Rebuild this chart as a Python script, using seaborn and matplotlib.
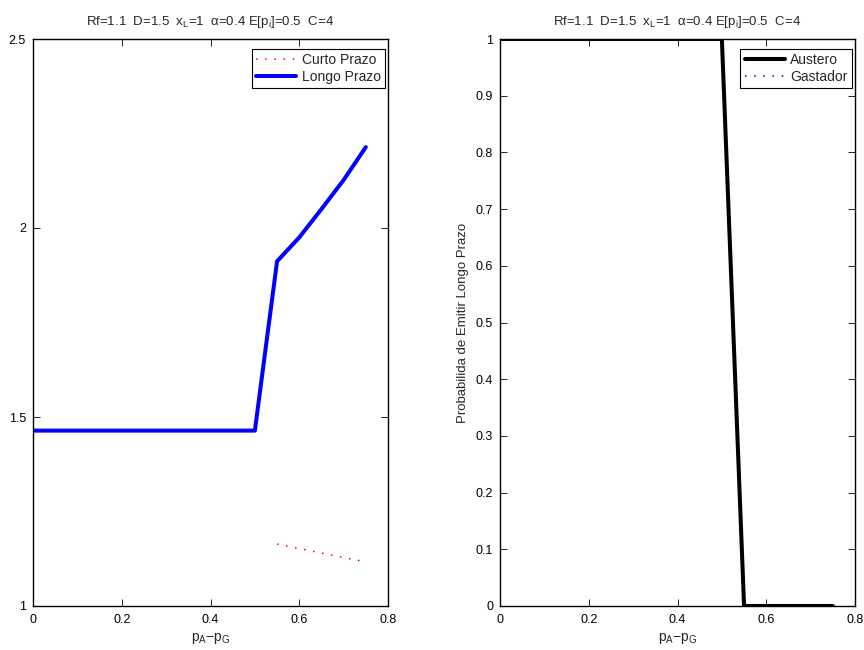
import matplotlib
matplotlib.use("Agg")
import matplotlib.pyplot as plt
import seaborn as sns
import pandas as pd
import numpy as np

# Data
x_all = [0.0, 0.05, 0.1, 0.15, 0.2, 0.25, 0.3, 0.35, 0.4, 0.45, 0.5, 0.55, 0.6, 0.65, 0.7, 0.75]
longo = [1.464, 1.464, 1.464, 1.464, 1.464, 1.464, 1.464, 1.464, 1.464, 1.464, 1.464,
         1.912, 1.975, 2.05, 2.127, 2.214]
x_curto = [0.55, 0.6, 0.65, 0.7, 0.75]
curto = [1.164, 1.152, 1.140, 1.128, 1.117]
austero = [1, 1, 1, 1, 1, 1, 1, 1, 1, 1, 1, 0, 0, 0, 0, 0]
gastador = [1, 1, 1, 1, 1, 1, 1, 1, 1, 1, 1, 1, 1, 1, 1, 1]

title = r"Rf=1.1  D=1.5  x$_\mathregular{L}$=1  $\mathregular{\alpha}$=0.4 E[p$_\mathregular{i}$]=0.5  C=4"
xlabel = r"p$_\mathregular{A}$$-$p$_\mathregular{G}$"
ylabel_right = "Probabilida de Emitir Longo Prazo"

sns.set_theme(style="white")
plt.rcParams['font.family'] = ['Liberation Sans', 'DejaVu Sans']
plt.rcParams['mathtext.fontset'] = 'custom'
plt.rcParams['mathtext.rm'] = 'Liberation Sans'
plt.rcParams['mathtext.it'] = 'Liberation Sans'
plt.rcParams['font.size'] = 10

fig = plt.figure(figsize=(8.64, 6.5), dpi=100)
W, H = 864, 650
top, bot = 39, 606
ax1 = fig.add_axes([33 / W, 1 - bot / H, 355 / W, (bot - top) / H])
ax2 = fig.add_axes([500 / W, 1 - bot / H, 355 / W, (bot - top) / H])

dot = (0, (1.0, 5.0))

df_l = pd.DataFrame({"x": x_all, "y": longo})
df_c = pd.DataFrame({"x": x_curto, "y": curto})
sns.lineplot(data=df_c, x="x", y="y", ax=ax1, color="#ff0000", lw=1.1,
             linestyle=dot, label="Curto Prazo")
sns.lineplot(data=df_l, x="x", y="y", ax=ax1, color="#0000ff", lw=2.9,
             label="Longo Prazo")
ax1.set_xlim(0, 0.8)
ax1.set_ylim(1, 2.5)
ax1.set_xticks([0, 0.2, 0.4, 0.6, 0.8])
ax1.set_xticklabels(["0", "0.2", "0.4", "0.6", "0.8"])
ax1.set_yticks([1, 1.5, 2, 2.5])
ax1.set_yticklabels(["1", "1.5", "2", "2.5"])
ax1.set_xlabel(xlabel, fontsize=10, labelpad=3)
ax1.set_ylabel("")
ax1.set_title(title, fontsize=9.5, pad=10)

df_a = pd.DataFrame({"x": x_all, "y": austero})
df_g = pd.DataFrame({"x": x_all, "y": gastador})
sns.lineplot(data=df_a, x="x", y="y", ax=ax2, color="black", lw=2.9, label="Austero")
sns.lineplot(data=df_g, x="x", y="y", ax=ax2, color="#0000ff", lw=1.1,
             linestyle=dot, label="Gastador")
ax2.set_xlim(0, 0.8)
ax2.set_ylim(0, 1)
ax2.set_xticks([0, 0.2, 0.4, 0.6, 0.8])
ax2.set_xticklabels(["0", "0.2", "0.4", "0.6", "0.8"])
yt = [0, 0.1, 0.2, 0.3, 0.4, 0.5, 0.6, 0.7, 0.8, 0.9, 1]
ax2.set_yticks(yt)
ax2.set_yticklabels(["0", "0.1", "0.2", "0.3", "0.4", "0.5", "0.6", "0.7", "0.8", "0.9", "1"])
ax2.set_xlabel(xlabel, fontsize=10, labelpad=3)
ax2.set_ylabel(ylabel_right, fontsize=9.5, labelpad=5)
ax2.set_title(title, fontsize=9.5, pad=10)

for ax in (ax1, ax2):
    for s in ax.spines.values():
        s.set_color("black")
        s.set_linewidth(1.0)
        s.set_visible(True)
    ax.tick_params(direction="in", length=5, width=0.6, colors="black",
                   labelsize=9, top=True, right=True, bottom=True, left=True,
                   pad=5)
    ax.tick_params(axis="x", pad=6)
    ax.set_facecolor("white")
    leg = ax.legend(loc="upper right", bbox_to_anchor=(1 - 3 / 355, 1 - 10 / 567),
                    fontsize=10, frameon=True, fancybox=False,
                    edgecolor="black", framealpha=1, handlelength=2.9,
                    borderpad=0.3, labelspacing=0.2, handletextpad=0.4,
                    borderaxespad=0.0)
    leg.get_frame().set_linewidth(0.8)

fig.savefig("out.png", dpi=100, facecolor="white")
